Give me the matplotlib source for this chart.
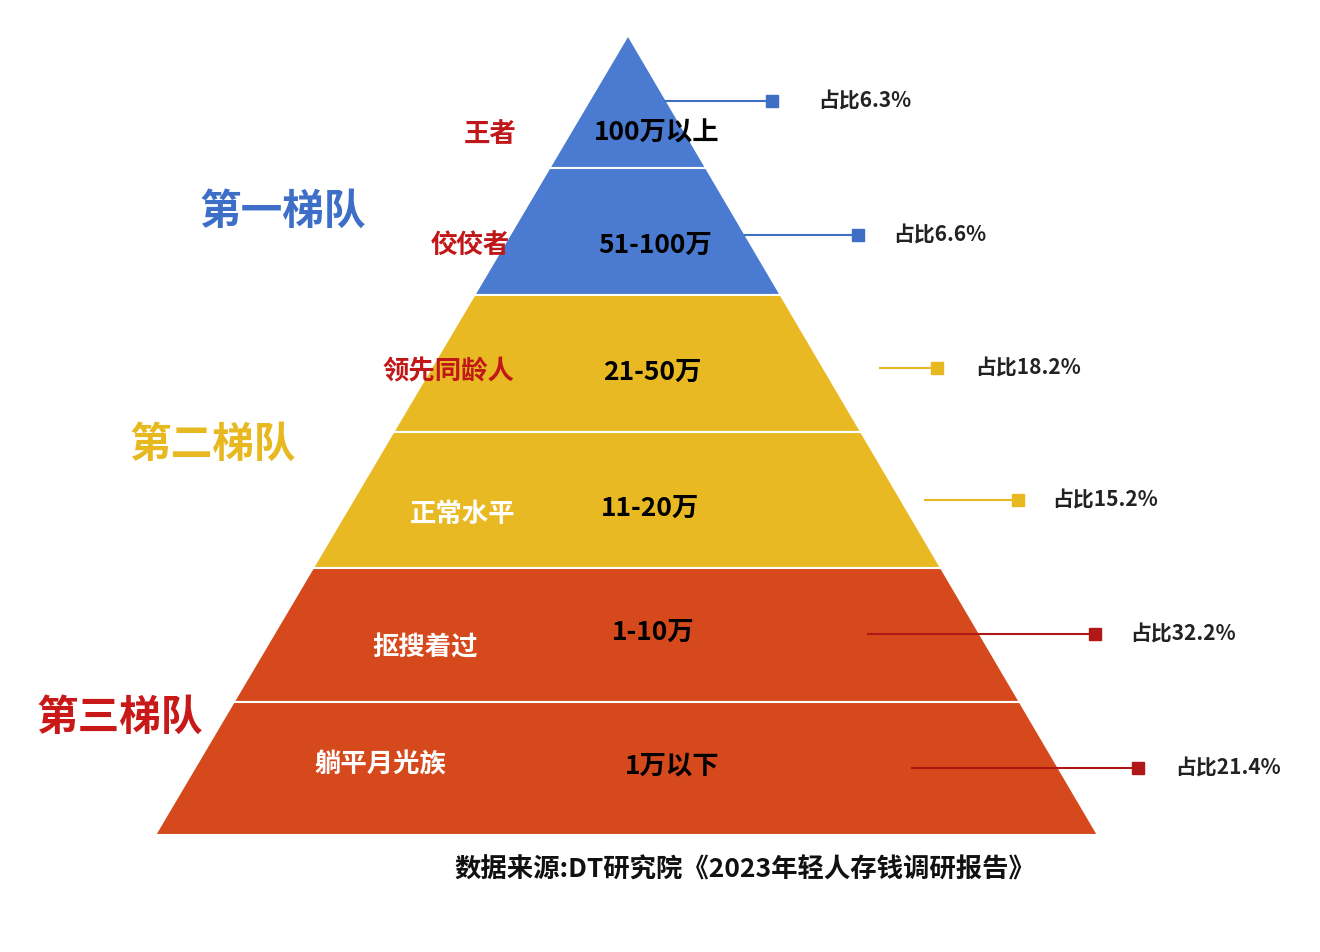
import matplotlib
matplotlib.use("Agg")
import matplotlib.pyplot as plt
from matplotlib.patches import Polygon

plt.rcParams['font.family'] = ['Noto Sans CJK SC', 'DejaVu Sans']

names = ["王者", "佼佼者", "领先同龄人", "正常水平", "抠搜着过", "躺平月光族"]
ranges = ["100万以上", "51-100万", "21-50万", "11-20万", "1-10万", "1万以下"]
shares = [6.3, 6.6, 18.2, 15.2, 32.2, 21.4]
tiers = ["第一梯队", "第二梯队", "第三梯队"]
source = "数据来源:DT研究院《2023年轻人存钱调研报告》"

colors = ["#4a7bd0", "#4a7bd0", "#e9b923", "#e9b923", "#d5491c", "#d5491c"]
marker_colors = ["#3f6fc4", "#3f6fc4", "#e8b820", "#e8b820", "#b01818", "#b01818"]
name_colors = ["#c01818", "#c01818", "#c01818", "white", "white", "white"]
tier_colors = ["#3d6fc8", "#e8b820", "#c81818"]

fig = plt.figure(figsize=(13.2, 9.52), dpi=100)
ax = fig.add_axes([0, 0, 1, 1])
ax.set_xlim(0, 1320); ax.set_ylim(952, 0); ax.axis('off')

apex = (628, 35); bl, br, by = 155, 1098, 835
def lx(y): return apex[0] - (apex[0] - bl) * (y - apex[1]) / (by - apex[1])
def rx(y): return apex[0] + (br - apex[0]) * (y - apex[1]) / (by - apex[1])

bounds = [35, 168, 295, 432, 568, 702, 835]
name_pos = [(490, 135), (470, 245), (448, 372), (463, 515), (425, 648), (380, 765)]
range_pos = [(657, 133), (655, 245), (652, 372), (650, 508), (653, 632), (672, 766)]
line_spec = [(665, 772, 101, 818), (745, 858, 235, 893), (880, 937, 368, 975),
             (925, 1018, 500, 1052), (868, 1095, 634, 1130), (912, 1138, 768, 1175)]

for i in range(6):
    y0, y1 = bounds[i], bounds[i + 1]
    pts = [(lx(y0), y0), (rx(y0), y0), (rx(y1), y1), (lx(y1), y1)]
    ax.add_patch(Polygon(pts, closed=True, facecolor=colors[i], edgecolor='white', lw=1.5))
    ax.text(*name_pos[i], names[i], color=name_colors[i], fontsize=19, fontweight='bold',
            ha='center', va='center')
    ax.text(*range_pos[i], ranges[i], color='black', fontsize=19, fontweight='bold',
            ha='center', va='center')
    x0, x1, yy, tx = line_spec[i]
    ax.plot([x0, x1], [yy, yy], color=marker_colors[i], lw=1.5)
    ax.plot([x1], [yy], marker='s', ms=8, color=marker_colors[i])
    ax.text(tx, yy, f"占比{shares[i]}%", fontsize=15, fontweight='bold', color='#222222',
            ha='left', va='center')

tier_pos = [(283, 212), (213, 445), (120, 718)]
for t, p, c in zip(tiers, tier_pos, tier_colors):
    ax.text(*p, t, color=c, fontsize=30, fontweight='bold', ha='center', va='center')

ax.text(745, 870, source, fontsize=19, fontweight='bold', color='#111111', ha='center', va='center')

fig.savefig("out.png", dpi=100)
